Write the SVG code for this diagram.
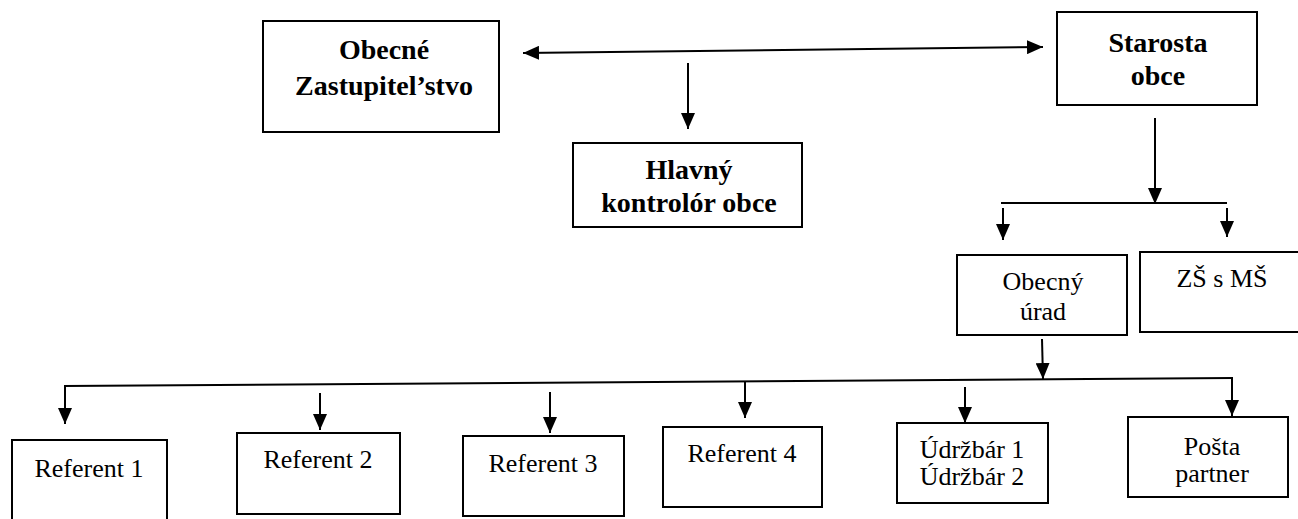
<svg xmlns="http://www.w3.org/2000/svg" width="1298" height="519" viewBox="0 0 1298 519">
<defs>
<marker id="ah" markerUnits="userSpaceOnUse" markerWidth="18" markerHeight="14" refX="16" refY="7" orient="auto-start-reverse">
<path d="M0,0 L16,7 L0,14 Z" fill="#000"/>
</marker>
<style>
rect{fill:#fff;stroke:#000;stroke-width:2}
.c line{stroke:#000;stroke-width:2;fill:none}
.a{marker-end:url(#ah)}
text{fill:#000;text-anchor:middle}
.b{font-weight:bold;font-size:28px}
.r{font-size:26px}
</style>
</defs>
<rect x="0" y="0" width="1298" height="519" style="stroke:none"/>
<g class="c" id="connectors">
<line x1="523" y1="53" x2="1043" y2="47" style="marker-start:url(#ah);marker-end:url(#ah)"/>
<line class="a" x1="688" y1="63" x2="688" y2="129"/>
<line class="a" x1="1155" y1="118" x2="1155" y2="204"/>
<line x1="1001" y1="203" x2="1227" y2="203"/>
<line class="a" x1="1003" y1="208" x2="1003" y2="240"/>
<line class="a" x1="1227" y1="208" x2="1227" y2="237"/>
<line class="a" x1="1042" y1="339" x2="1043" y2="379"/>
<line x1="64" y1="386" x2="1233" y2="378"/>
<line class="a" x1="65" y1="386" x2="65" y2="424"/>
<line class="a" x1="320" y1="393" x2="320" y2="430"/>
<line class="a" x1="550" y1="392" x2="550" y2="433"/>
<line class="a" x1="745" y1="381" x2="745" y2="418"/>
<line class="a" x1="965" y1="387" x2="965" y2="423"/>
<line class="a" x1="1232" y1="378" x2="1232" y2="416"/>
</g>
<g font-family="Liberation Serif, DejaVu Serif, serif">
<g id="zastupitelstvo">
<rect x="263" y="21" width="236" height="111"/>
<text class="b" x="384" y="59">Obecné</text>
<text class="b" x="384" y="95">Zastupitel’stvo</text>
</g>
<g id="starosta">
<rect x="1057" y="12" width="200" height="93"/>
<text class="b" x="1158" y="52">Starosta</text>
<text class="b" x="1158" y="85">obce</text>
</g>
<g id="kontrolor">
<rect x="573" y="143" width="229" height="84"/>
<text class="b" x="689" y="179">Hlavný</text>
<text class="b" x="689" y="212">kontrolór obce</text>
</g>
<g id="obecny-urad">
<rect x="957" y="255" width="170" height="80"/>
<text class="r" x="1043" y="290">Obecný</text>
<text class="r" x="1043" y="320">úrad</text>
</g>
<g id="zs-ms">
<rect x="1140" y="252" width="170" height="80"/>
<text class="r" x="1222" y="287">ZŠ s MŠ</text>
</g>
<g id="referent1">
<rect x="12" y="440" width="155" height="90"/>
<text class="r" x="89" y="477">Referent 1</text>
</g>
<g id="referent2">
<rect x="237" y="433" width="163" height="81"/>
<text class="r" x="318" y="468">Referent 2</text>
</g>
<g id="referent3">
<rect x="463" y="436" width="161" height="80"/>
<text class="r" x="543" y="472">Referent 3</text>
</g>
<g id="referent4">
<rect x="663" y="427" width="159" height="80"/>
<text class="r" x="742" y="462">Referent 4</text>
</g>
<g id="udrzbar">
<rect x="897" y="423" width="151" height="80"/>
<text class="r" x="972" y="458">Údržbár 1</text>
<text class="r" x="972" y="485">Údržbár 2</text>
</g>
<g id="posta">
<rect x="1128" y="417" width="160" height="80"/>
<text class="r" x="1212" y="455">Pošta</text>
<text class="r" x="1212" y="482">partner</text>
</g>
</g>
</svg>
